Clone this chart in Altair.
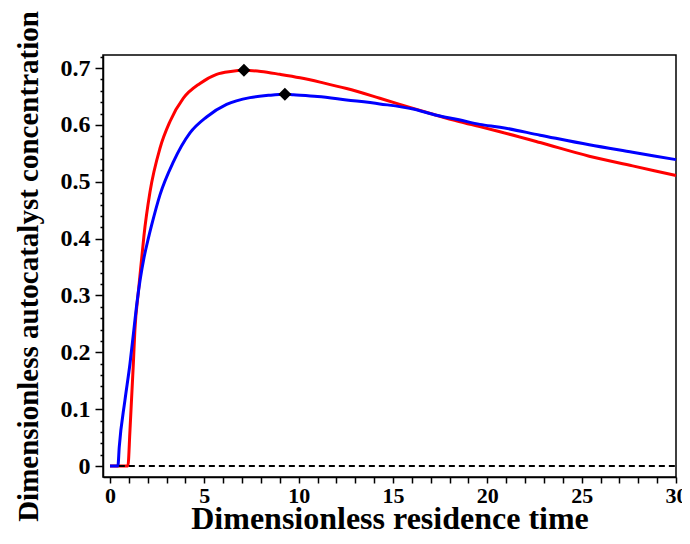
import altair as alt
import pandas as pd

# ---- data ----
red_x = [0.0, 0.95, 1.06, 1.24, 1.32, 1.50, 1.68, 1.80, 2.12, 2.65, 3.18, 3.89, 4.77, 5.65, 6.40, 7.10,
         8.00, 9.01, 10.07, 11.30, 12.54, 14.30, 16.07, 17.30, 18.50, 19.60, 20.67, 22.80, 25.40, 27.70, 30.0]
red_y = [0.0, 0.0, 0.063, 0.181, 0.239, 0.305, 0.365, 0.405, 0.482, 0.559, 0.606, 0.647, 0.673, 0.689, 0.694, 0.696,
         0.694, 0.689, 0.683, 0.674, 0.664, 0.647, 0.629, 0.617, 0.606, 0.597, 0.588, 0.569, 0.545, 0.528, 0.511]

blue_x = [0.0, 0.42, 0.49, 0.79, 1.06, 1.24, 1.41, 1.60, 1.80, 2.03, 2.21, 2.65, 3.36, 4.24, 5.12, 6.18, 7.42,
          8.40, 9.27, 9.72, 11.00, 12.54, 14.30, 16.07, 17.30, 18.50, 19.60, 20.67, 22.80, 25.40, 27.70, 30.0]
blue_y = [0.0, 0.0, 0.033, 0.115, 0.180, 0.232, 0.282, 0.328, 0.366, 0.400, 0.424, 0.477, 0.535, 0.586, 0.614, 0.636, 0.648,
          0.652, 0.654, 0.653, 0.650, 0.644, 0.637, 0.628, 0.617, 0.609, 0.601, 0.596, 0.582, 0.565, 0.552, 0.539]

peak_x = [7.10, 9.27]
peak_y = [0.696, 0.654]

baseline_x = [0.47, 30.0]
baseline_y = [0.0, 0.0]

x_ticks = list(range(0, 31))
y_ticks = [round(i * 0.02, 2) for i in range(0, 37)]

FONT = "Liberation Serif"

red_df = pd.DataFrame({"x": red_x, "y": red_y, "order": list(range(len(red_x)))})
blue_df = pd.DataFrame({"x": blue_x, "y": blue_y, "order": list(range(len(blue_x)))})
peaks = pd.DataFrame({"x": peak_x, "y": peak_y})
base = pd.DataFrame({"x": baseline_x, "y": baseline_y})

xscale = alt.Scale(domain=[-0.37, 30], nice=False, zero=False)
yscale = alt.Scale(domain=[-0.0193, 0.723], nice=False, zero=False)

xaxis = alt.Axis(
    values=x_ticks,
    labelExpr="datum.value % 5 == 0 ? datum.label : ''",
    tickSize=6, tickColor="black", tickWidth=1.5,
    domainColor="black", domainWidth=1.5,
    labelFont=FONT, labelFontWeight="bold", labelFontSize=22, labelColor="black",
    labelPadding=2, labelFlush=False, labelOverlap=False,
    title="Dimensionless residence time",
    titleFont=FONT, titleFontWeight="bold", titleFontSize=32, titleColor="black",
    titleBaseline="alphabetic", titleY=51, grid=False,
)
yaxis = alt.Axis(
    values=y_ticks,
    labelExpr="abs(datum.value * 10 - round(datum.value * 10)) < 0.001 ? datum.label : ''",
    format=".1~f",
    tickSize={"condition": {"test": "abs(datum.value * 10 - round(datum.value * 10)) < 0.001", "value": 8}, "value": 3},
    tickColor="black", tickWidth=1.5,
    domainColor="black", domainWidth=1.5,
    labelFont=FONT, labelFontWeight="bold", labelFontSize=24, labelColor="black",
    labelPadding=5, labelFlush=False, labelOverlap=False,
    title="Dimensionless autocatalyst  concentration",
    titleFont=FONT, titleFontWeight="bold", titleFontSize=29, titleColor="black",
    titleAngle=270, titleBaseline="middle", titleAlign="center", titleX=-75, titleY=211,
    grid=False,
)

X = alt.X("x:Q", scale=xscale, axis=xaxis)
Y = alt.Y("y:Q", scale=yscale, axis=yaxis)

red_line = alt.Chart(red_df).mark_line(strokeWidth=3, interpolate="monotone", color="#ff0000").encode(
    x=X, y=Y, order="order:Q")
blue_line = alt.Chart(blue_df).mark_line(strokeWidth=3, interpolate="monotone", color="#0000ff").encode(
    x=X, y=Y, order="order:Q")

dashed = alt.Chart(base).mark_line(color="black", strokeWidth=2, strokeDash=[6, 4]).encode(x=X, y=Y)

markers = alt.Chart(peaks).mark_point(shape="diamond", filled=True, color="black", size=170, opacity=1).encode(x=X, y=Y)

chart = alt.layer(red_line, blue_line, dashed, markers).properties(
    width=573, height=422,
    autosize=alt.AutoSizeParams(type="none"),
    padding={"left": 95, "top": 47, "right": 6, "bottom": 59},
    background="white",
).configure_view(stroke="black", strokeWidth=1.5)

chart.save("out.html", embed_options={"renderer": "svg", "actions": False})
